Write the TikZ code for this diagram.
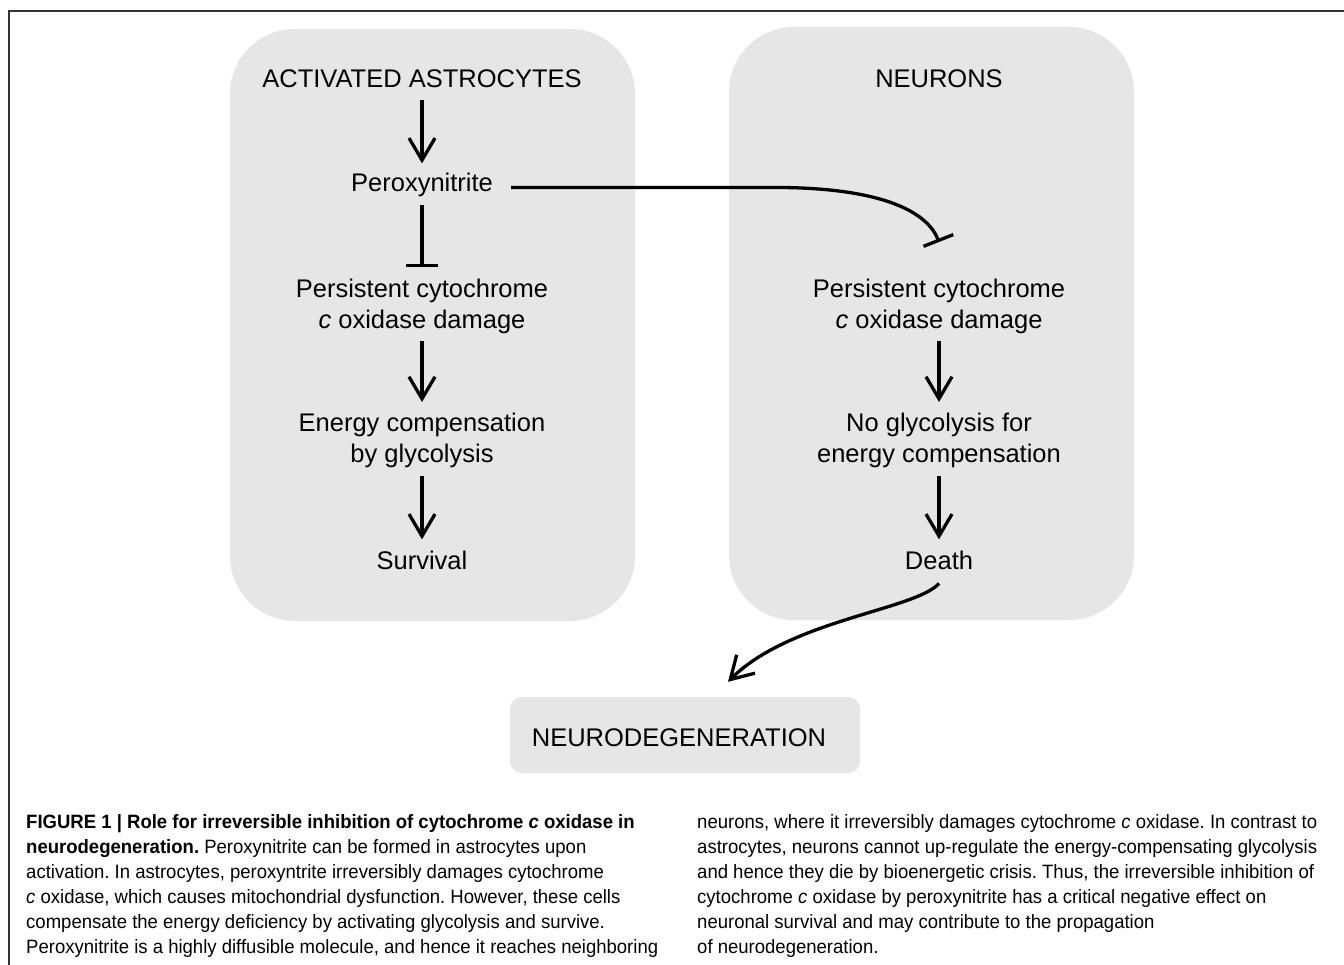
\documentclass[tikz,border=0pt]{standalone}
\usepackage{fontspec}
\setmainfont{Liberation Sans}
\newfontfamily\capfont[FakeStretch=0.96]{Liberation Sans}
\usetikzlibrary{arrows.meta}
\definecolor{boxgray}{HTML}{E6E6E6}
\definecolor{framegray}{HTML}{333333}
\tikzset{
  cell/.style={fill=boxgray, draw=none, rounded corners=65pt, inner sep=0pt},
  txt/.style={font=\fontsize{25.5}{30.5}\selectfont, inner sep=0pt, align=center, text=black},
  capt/.style={font=\capfont\fontsize{19.3}{25}\selectfont\frenchspacing, inner sep=0pt, align=left, text=black},
  arr/.style={line width=3.3pt, -{Straight Barb[length=22pt,width=26pt,line width=3.3pt]}},
  inh/.style={line width=3.3pt, -{Bar[width=32pt,line width=3.3pt]}},
  frameline/.style={draw=framegray, line width=1.5pt}
}
\begin{document}
\begin{tikzpicture}[x=1pt,y=-1pt]
\useasboundingbox (0,0) rectangle (1344,965);
\fill[white] (0,0) rectangle (1344,965);
\draw[frameline] (9,965) -- (9,11) -- (1344,11);

% containers
\node[cell, minimum width=405pt, minimum height=592pt] (boxA) at (432.5,325) {};
\node[cell, minimum width=405pt, minimum height=593pt] (boxB) at (931.5,323.5) {};
\node[fill=boxgray, rounded corners=12pt, inner sep=0pt, minimum width=350pt, minimum height=76pt] (nd) at (685,735) {};

% left column
\node[txt, anchor=base] (ast) at (422,88) {ACTIVATED ASTROCYTES};
\node[txt, anchor=base] (perA) at (422,192) {Peroxynitrite};
\node[txt, anchor=north] (pcA) at (422,279) {Persistent cytochrome\\\emph{c} oxidase damage};
\node[txt, anchor=north] (ecA) at (422,413) {Energy compensation\\by glycolysis};
\node[txt, anchor=base] (surv) at (422,569) {Survival};

% right column
\node[txt, anchor=base] (neu) at (939,88) {NEURONS};
\node[txt, anchor=north] (pcB) at (939,279) {Persistent cytochrome\\\emph{c} oxidase damage};
\node[txt, anchor=north] (ngB) at (939,413) {No glycolysis for\\energy compensation};
\node[txt, anchor=base] (death) at (939,569) {Death};

\node[txt, anchor=base] (ndl) at (679,746) {NEURODEGENERATION};

% connectors
\draw[arr, shorten <=12pt, shorten >=10pt] (ast) -- (perA);
\draw[inh, shorten <=8pt, shorten >=12pt] (perA) -- (pcA);
\draw[arr, shorten <=7pt, shorten >=11pt] (pcA) -- (ecA);
\draw[arr, shorten <=8pt, shorten >=11pt] (ecA) -- (surv);
\draw[arr, shorten <=7pt, shorten >=11pt] (pcB) -- (ngB);
\draw[arr, shorten <=8pt, shorten >=11pt] (ngB) -- (death);

\coordinate (cB) at ([yshift=37pt]pcB.north);
\coordinate (pstart) at ([xshift=18pt,yshift=-2pt]perA.east);
\draw[inh] (pstart) -- (780,187.5) .. controls (862,188) and (924,204) .. (cB);

\coordinate (dstart) at ([yshift=-14pt]death.south);
\coordinate (ndtip) at ([xshift=43pt,yshift=15pt]nd.north);
\draw[arr] (dstart) .. controls (915,610) and (790,620) .. (ndtip);

% caption
\node[capt, anchor=north west] (capL) at (26,814) {\textbf{FIGURE 1 | Role for irreversible inhibition of cytochrome \emph{c} oxidase in}\\
\textbf{neurodegeneration.} Peroxynitrite can be formed in astrocytes upon\\
activation. In astrocytes, peroxyntrite irreversibly damages cytochrome\\
\emph{c} oxidase, which causes mitochondrial dysfunction. However, these cells\\
compensate the energy deficiency by activating glycolysis and survive.\\
Peroxynitrite is a highly diffusible molecule, and hence it reaches neighboring};
\node[capt, anchor=north west] (capR) at (697,814) {neurons, where it irreversibly damages cytochrome \emph{c} oxidase. In contrast to\\
astrocytes, neurons cannot up-regulate the energy-compensating glycolysis\\
and hence they die by bioenergetic crisis. Thus, the irreversible inhibition of\\
cytochrome \emph{c} oxidase by peroxynitrite has a critical negative effect on\\
neuronal survival and may contribute to the propagation\\
of neurodegeneration.};
\end{tikzpicture}
\end{document}
